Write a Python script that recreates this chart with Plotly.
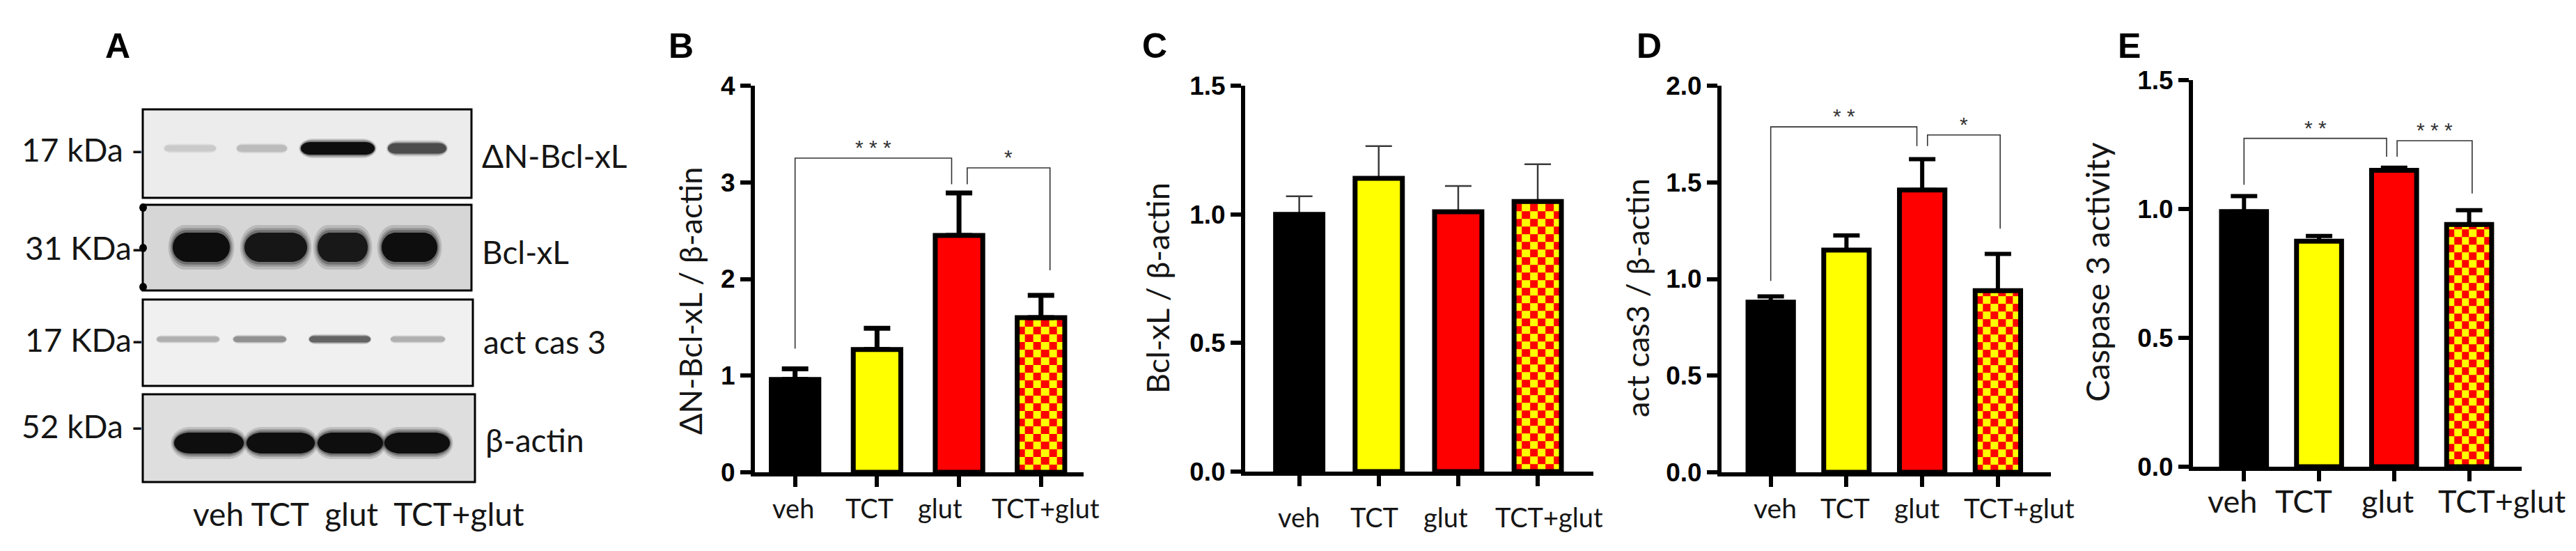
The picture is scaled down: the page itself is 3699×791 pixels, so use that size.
import numpy as np
import plotly.graph_objects as go

W, H = 3699, 791

groups = ["veh", "TCT", "glut", "TCT+glut"]

# B: dN-Bcl-xL / beta-actin (mean, SEM)
dn_mean = [0.96, 1.27, 2.45, 1.60]
dn_sem = [0.11, 0.22, 0.44, 0.23]
# C: Bcl-xL / beta-actin
bcl_mean = [1.00, 1.14, 1.01, 1.05]
bcl_sem = [0.07, 0.125, 0.10, 0.145]
# D: act cas3 / beta-actin
cas3_mean = [0.88, 1.15, 1.46, 0.94]
cas3_sem = [0.03, 0.075, 0.16, 0.19]
# E: caspase 3 activity
act_mean = [0.99, 0.875, 1.15, 0.94]
act_sem = [0.06, 0.02, 0.01, 0.055]

# significance brackets: x0, x1, top, left end, right end, stars
b_sig = [(0, 1.91, 3.25, 1.28, 2.98, "* * *"), (2.10, 3.11, 3.15, 2.98, 2.09, "*")]
d_sig = [(0, 1.93, 1.787, 0.99, 1.687, "* *"), (2.07, 3.03, 1.745, 1.687, 1.26, "*")]
e_sig = [(0, 1.90, 1.274, 1.094, 1.203, "* *"), (2.04, 3.04, 1.265, 1.203, 1.06, "* * *")]

# western blot: relative band darkness per lane
blot_rows = ["ΔN-Bcl-xL", "Bcl-xL", "act cas 3", "β-actin"]
blot_kda = ["17 kDa -", "31 KDa-", "17 KDa-", "52 kDa -"]
band_dn = [0.15, 0.22, 1.0, 0.72]
band_bcl = [1.0, 0.96, 0.95, 1.0]
band_cas3 = [0.28, 0.42, 0.62, 0.28]
band_actin = [1.0, 1.0, 1.0, 1.0]

TXT = "Lato"
NUM = "Liberation Sans"
INK = "#151515"
bar_fill = ["black", "#ffff00", "#ff0000", "rgba(0,0,0,0)"]


def px(x):
    return x / W


def py(y):
    return 1 - y / H


def label(x, y, text, size, family=TXT, color=INK, xanchor="center", **kw):
    return dict(x=px(x), y=py(y), xref="paper", yref="paper", text=text, showarrow=False,
                xanchor=xanchor, yanchor="middle",
                font=dict(family=family, size=size, color=color), **kw)


panels = [
    dict(mean=dn_mean, sem=dn_sem, sig=b_sig, title="ΔN-Bcl-xL / β-actin", tsize=45,
         xdom=(1076, 1548), ydom=(115, 670), xr=(-0.49, 3.52), yr=(0, 4),
         yticks=[0, 1, 2, 3, 4], ytext=["0", "1", "2", "3", "4"], bw=0.58,
         ecol="black", eth=7, xsize=38, xshift=[-3, -11, -27, 7], xly=721,
         tpos=(983, 424), letter="B", lpos=(970, 58)),
    dict(mean=bcl_mean, sem=bcl_sem, sig=[], title="Bcl-xL / β-actin", tsize=45,
         xdom=(1780, 2280), ydom=(115, 669), xr=(-0.68, 3.70), yr=(0, 1.5),
         yticks=[0, 0.5, 1, 1.5], ytext=["0.0", "0.5", "1.0", "1.5"], bw=0.595,
         ecol="#3a3a3a", eth=2.5, xsize=38, xshift=[-1, -6, -18, 16], xly=734,
         tpos=(1654, 406), letter="C", lpos=(1650, 58)),
    dict(mean=cas3_mean, sem=cas3_sem, sig=d_sig, title="act cas3 / β-actin", tsize=45,
         xdom=(2464, 2937), ydom=(115, 670), xr=(-0.65, 3.70), yr=(0, 2),
         yticks=[0, 0.5, 1, 1.5, 2], ytext=["0.0", "0.5", "1.0", "1.5", "2.0"], bw=0.6,
         ecol="black", eth=6, xsize=39, xshift=[6, -2, -8, 31], xly=721,
         tpos=(2343, 420), letter="D", lpos=(2360, 58)),
    dict(mean=act_mean, sem=act_sem, sig=e_sig, title="Caspase 3 activity", tsize=47,
         xdom=(3141, 3613), ydom=(107, 662), xr=(-0.68, 3.70), yr=(0, 1.5),
         yticks=[0, 0.5, 1, 1.5], ytext=["0.0", "0.5", "1.0", "1.5"], bw=0.6,
         ecol="black", eth=6, xsize=45, xshift=[-17, -22, -9, 47], xly=711,
         tpos=(3003, 383), letter="E", lpos=(3049, 58)),
]

fig = go.Figure()
layout = dict(template="none", width=W, height=H, margin=dict(l=0, r=0, t=0, b=0, pad=0),
              paper_bgcolor="white", plot_bgcolor="rgba(0,0,0,0)",
              showlegend=False, barmode="overlay", hovermode=False)
annotations = []
shapes = []

pos = list(range(len(groups)))

for i, p in enumerate(panels):
    n = "" if i == 0 else str(i + 1)
    xa, ya = "x" + n, "y" + n

    # checkerboard fill for TCT+glut, cells about 11 px
    ppu_x = (p["xdom"][1] - p["xdom"][0]) / (p["xr"][1] - p["xr"][0])
    ppu_y = (p["ydom"][1] - p["ydom"][0]) / (p["yr"][1] - p["yr"][0])
    ncol = int(round(p["bw"] * ppu_x / 11))
    xe = np.linspace(pos[3] - p["bw"] / 2, pos[3] + p["bw"] / 2, ncol + 1)
    ye = list(np.arange(0, p["mean"][3], 11 / ppu_y)) + [p["mean"][3]]
    z = [[(r + c) % 2 for c in range(ncol)] for r in range(len(ye) - 1)]
    fig.add_trace(go.Heatmap(x=xe, y=ye, z=z, zmin=0, zmax=1, showscale=False,
                             colorscale=[[0, "#ff0000"], [1, "#ffff00"]],
                             hoverinfo="skip", xaxis=xa, yaxis=ya))

    # error bars on a hidden bar, so the real bar outline covers the lower cap
    fig.add_trace(go.Bar(x=pos, y=p["mean"], width=p["bw"], xaxis=xa, yaxis=ya,
                         marker=dict(color="rgba(0,0,0,0)", line=dict(width=0)),
                         error_y=dict(type="data", array=p["sem"], arrayminus=[0] * 4,
                                      symmetric=False, color=p["ecol"],
                                      thickness=p["eth"], width=19)))
    fig.add_trace(go.Bar(x=pos, y=p["mean"], width=p["bw"], xaxis=xa, yaxis=ya,
                         marker=dict(color=bar_fill, line=dict(color="black", width=7))))

    for x0, x1, top, yl, yr_, stars in p["sig"]:
        fig.add_trace(go.Scatter(x=[x0, x0, x1, x1], y=[yl, top, top, yr_], mode="lines",
                                 line=dict(color="#333333", width=1.6),
                                 xaxis=xa, yaxis=ya))
        annotations.append(dict(x=(x0 + x1) / 2, y=top, xref=xa, yref=ya, text=stars,
                                showarrow=False, xanchor="center", yanchor="bottom", yshift=-3,
                                font=dict(family=NUM, size=30, color="#333333")))

    # category labels sit a little off the ticks, as in the original layout
    for k, g in enumerate(groups):
        annotations.append(dict(x=pos[k], y=py(p["xly"]), xref=xa, yref="paper", text=g,
                                showarrow=False, xanchor="center", yanchor="middle",
                                xshift=p["xshift"][k],
                                font=dict(family=TXT, size=p["xsize"], color=INK)))

    layout["xaxis" + n] = dict(domain=[px(p["xdom"][0]), px(p["xdom"][1])], anchor=ya,
                               range=list(p["xr"]), tickvals=pos, showticklabels=False,
                               automargin=False,
                               showline=True, linewidth=6, linecolor="black",
                               ticks="outside", ticklen=15, tickwidth=6, tickcolor="black",
                               showgrid=False, zeroline=False, fixedrange=True)
    layout["yaxis" + n] = dict(domain=[py(p["ydom"][1]), py(p["ydom"][0])], anchor=xa,
                               range=list(p["yr"]), tickvals=p["yticks"], ticktext=p["ytext"],
                               automargin=False,
                               showline=True, linewidth=6, linecolor="black",
                               ticks="outside", ticklen=15, tickwidth=6, tickcolor="black",
                               showgrid=False, zeroline=False, fixedrange=True,
                               tickfont=dict(family=NUM, size=37, color="black", weight="bold"))

    annotations.append(label(p["tpos"][0], p["tpos"][1], p["title"], p["tsize"], textangle=-90))
    letter = label(p["lpos"][0], p["lpos"][1], p["letter"], 50, family=NUM, color="black")
    letter["font"]["weight"] = "bold"
    annotations.append(letter)

# panel A: blot drawn on a pixel axis
layout["xaxis5"] = dict(domain=[0, 1], range=[0, W], visible=False, anchor="y5",
                        fixedrange=True, automargin=False)
layout["yaxis5"] = dict(domain=[0, 1], range=[H, 0], visible=False, anchor="x5",
                        fixedrange=True, automargin=False)

band_sets = [band_dn, band_bcl, band_cas3, band_actin]
row_look = [
    dict(top=149, bot=276, right=669, bg=236, cy=205, hh=(3.5, 9),
         lanes=[265, 368, 477, 591], hw=[37, 36, 53, 42], ty=215, ky=206),
    dict(top=286, bot=409, right=669, bg=214, cy=347, hh=(21, 21),
         lanes=[281, 388, 484, 580], hw=[41, 45, 36, 40], ty=353, ky=348),
    dict(top=422, bot=546, right=671, bg=240, cy=479, hh=(3, 5.5),
         lanes=[262, 365, 480, 592], hw=[45, 38, 44, 39], ty=482, ky=479),
    dict(top=558, bot=684, right=674, bg=222, cy=628, hh=(15, 15),
         lanes=[292, 395, 495, 591], hw=[50, 49, 47, 47], ty=623, ky=603),
]

K = 0.5523


def band_path(cx, hw, cy, hh):
    # rounded band: straight middle, half-ellipse ends
    rx = min(hw * 0.5, hh * 1.5)
    x0, x1, y0, y1 = cx - hw, cx + hw, cy - hh, cy + hh
    a, b = x0 + rx, x1 - rx
    return (f"M{a},{y0} L{b},{y0} "
            f"C{b + K * rx},{y0} {x1},{cy - K * hh} {x1},{cy} "
            f"C{x1},{cy + K * hh} {b + K * rx},{y1} {b},{y1} "
            f"L{a},{y1} "
            f"C{a - K * rx},{y1} {x0},{cy + K * hh} {x0},{cy} "
            f"C{x0},{cy - K * hh} {a - K * rx},{y0} {a},{y0} Z")


for r, look in enumerate(row_look):
    g = look["bg"]
    shapes.append(dict(type="rect", xref="x5", yref="y5", x0=197, x1=look["right"],
                       y0=look["top"], y1=look["bot"], fillcolor=f"rgb({g},{g},{g})",
                       line=dict(color="black", width=3), layer="below"))
    for lane, v in enumerate(band_sets[r]):
        hh = look["hh"][0] + (look["hh"][1] - look["hh"][0]) * v
        hw = look["hw"][lane]
        c = int(g - (g - 14) * v)
        cx = look["lanes"][lane]
        # soft edge: a few widening translucent layers, then the core
        for grow, op in [(1.5, 0.15), (1.3, 0.2), (1.15, 0.3)]:
            shapes.append(dict(type="path", xref="x5", yref="y5",
                               path=band_path(cx, hw + hh * (grow - 1) * 0.6, look["cy"],
                                              hh * grow + 0.5),
                               fillcolor=f"rgba({c},{c},{c},{op})", line=dict(width=0)))
        shapes.append(dict(type="path", xref="x5", yref="y5",
                           path=band_path(cx, hw, look["cy"], hh),
                           fillcolor=f"rgb({c},{c},{c})", line=dict(width=0)))
    annotations.append(label(look["right"] + 13, look["ty"], blot_rows[r], 46, xanchor="left"))
    annotations.append(label(200, look["ky"], blot_kda[r], 46, xanchor="right"))

# marker dots on the Bcl-xL strip
for yd in [290, 348, 404]:
    shapes.append(dict(type="circle", xref="x5", yref="y5", x0=192, x1=203,
                       y0=yd - 6, y1=yd + 6, fillcolor="black", line=dict(width=0)))

annotations.append(label(507, 729, "veh TCT  glut  TCT+glut", 46))
letter_a = label(161, 58, "A", 50, family=NUM, color="black")
letter_a["font"]["weight"] = "bold"
annotations.append(letter_a)

layout["annotations"] = annotations
layout["shapes"] = shapes
fig.update_layout(**layout)
fig.write_html("out.html")
